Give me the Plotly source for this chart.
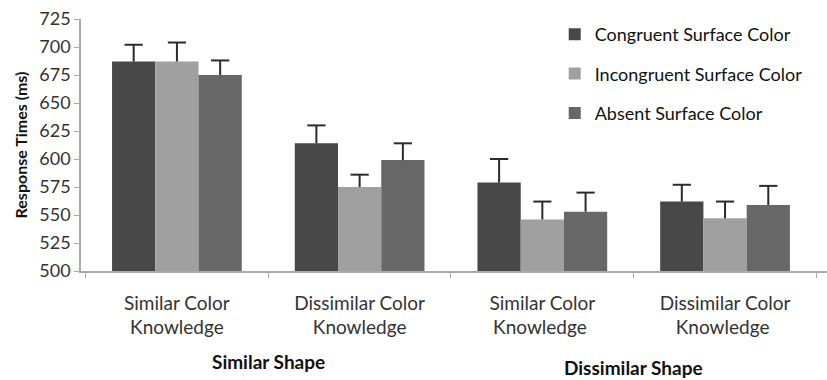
import plotly.graph_objects as go

# Condition groups along the x axis
categories = [
    "Similar Color<br>Knowledge",
    "Dissimilar Color<br>Knowledge",
    "Similar Color<br>Knowledge ",
    "Dissimilar Color<br>Knowledge ",
]
shape_groups = ["Similar Shape", "Dissimilar Shape"]

# Mean response times (ms) and upper error-bar lengths
congruent = [687, 614, 579, 562]
congruent_err = [15, 16, 21, 15]
incongruent = [687, 575, 546, 547]
incongruent_err = [17, 11, 16, 15]
absent = [675, 599, 553, 559]
absent_err = [13, 15, 17, 17]

y_ticks = [500, 525, 550, 575, 600, 625, 650, 675, 700, 725]

series = [
    ("Congruent Surface Color", congruent, congruent_err, "#484848"),
    ("Incongruent Surface Color", incongruent, incongruent_err, "#a0a0a0"),
    ("Absent Surface Color", absent, absent_err, "#676767"),
]

FONT = "Lato, 'Open Sans', sans-serif"
TEXT = "#333333"
ERR = "#2b2b2b"
GAP = 0.29

fig = go.Figure()
for name, vals, errs, color in series:
    fig.add_trace(go.Bar(
        name=name,
        x=categories,
        y=vals,
        legendgroup=name,
        offsetgroup=name,
        marker=dict(color=color, line=dict(width=0)),
    ))

# Upper-only error bars: a cap marker at mean + error with a stem down to the bar top
for name, vals, errs, color in series:
    tops = [v + e for v, e in zip(vals, errs)]
    fig.add_trace(go.Scatter(
        x=categories,
        y=tops,
        mode="markers",
        orientation="v",
        offsetgroup=name,
        legendgroup=name,
        showlegend=False,
        hoverinfo="skip",
        marker=dict(symbol="line-ew", size=13, color=ERR,
                    line=dict(color=ERR, width=2)),
        error_y=dict(
            type="data",
            symmetric=False,
            array=[0] * len(errs),
            arrayminus=errs,
            color=ERR,
            thickness=2,
            width=0,
        ),
    ))

# Bold labels for the two shape conditions, centred under each pair of groups
for label, xpos, ypos in [(shape_groups[0], 0.5, -0.358), (shape_groups[1], 2.5, -0.382)]:
    fig.add_annotation(
        text=f"<b>{label}</b>",
        x=xpos, xref="x",
        y=ypos, yref="paper",
        showarrow=False,
        font=dict(family=FONT, size=19, color="#111111"),
        xanchor="center", yanchor="middle",
    )

fig.update_layout(
    width=827,
    height=380,
    margin=dict(l=81, r=0, t=19, b=109),
    paper_bgcolor="white",
    plot_bgcolor="white",
    barmode="group",
    bargap=GAP,
    bargroupgap=0,
    scattermode="group",
    scattergap=GAP,
    font=dict(family=FONT, color=TEXT),
    showlegend=True,
    legend=dict(
        x=0.635, y=1.012,
        xanchor="left", yanchor="top",
        font=dict(family=FONT, size=18, color="#111111"),
        tracegroupgap=13,
        itemwidth=30,
        bgcolor="rgba(0,0,0,0)",
    ),
    xaxis=dict(
        type="category",
        range=[-0.525, 3.558],
        showline=True,
        linecolor="#aaaaaa",
        linewidth=1.5,
        ticks="outside",
        tickson="boundaries",
        ticklen=5,
        tickcolor="#aaaaaa",
        ticklabelstandoff=14,
        tickfont=dict(family=FONT, size=19, color=TEXT),
        showgrid=False,
        zeroline=False,
    ),
    yaxis=dict(
        range=[500, 725],
        tickvals=y_ticks,
        showline=True,
        linecolor="#aaaaaa",
        linewidth=1.5,
        ticks="outside",
        ticklen=5,
        tickcolor="#aaaaaa",
        tickfont=dict(family=FONT, size=18, color=TEXT),
        showgrid=False,
        zeroline=False,
        title=dict(
            text="<b>Response Times (ms)</b>",
            font=dict(family=FONT, size=16, color="#111111"),
            standoff=8,
        ),
    ),
)

fig.write_html("out.html")
